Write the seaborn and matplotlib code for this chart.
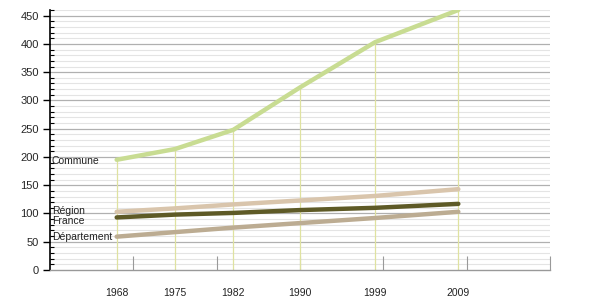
import matplotlib
matplotlib.use("Agg")
import matplotlib.pyplot as plt
import seaborn as sns
import pandas as pd
from matplotlib.ticker import MultipleLocator

years = [1968, 1975, 1982, 1990, 1999, 2009]
commune = [195, 214, 248, 323, 403, 460]
region = [103, 109, 116, 123, 131, 143]
france = [93, 98, 101, 106, 110, 117]
departement = [59, 67, 75, 83, 92, 103]

series_names = ["Commune", "Région", "France", "Département"]
series_values = [commune, region, france, departement]
colors = ["#c8dc92", "#d9c5ac", "#5e5a26", "#bcac92"]

rows = []
for name, vals in zip(series_names, series_values):
    for y, v in zip(years, vals):
        rows.append({"year": y, "value": v, "series": name})
df = pd.DataFrame(rows)

sns.set_theme(style="white")
plt.rcParams['font.family'] = ['Liberation Sans', 'DejaVu Sans']

fig = plt.figure(figsize=(6, 3), dpi=100)
ax = fig.add_axes([50/600, 30/300, 500/600, 260/300])

ax.set_xlim(1960, 2020)
ax.set_ylim(0, 460)

# grid
for v in range(10, 461, 10):
    if v % 50 == 0:
        ax.axhline(v, color="#b0b0b0", lw=0.9, zorder=0)
    else:
        ax.axhline(v, color="#e4e4e4", lw=0.8, zorder=0)

# vertical lines for data years
for y, v in zip(years, commune):
    ax.plot([y, y], [0, v], color="#dfe2a0", lw=0.9, zorder=1)

sns.lineplot(data=df, x="year", y="value", hue="series", hue_order=series_names,
             palette=colors, linewidth=3.2, legend=False, ax=ax, zorder=3)

# labels at left
label_y = {"Commune": 192, "Région": 105, "France": 87, "Département": 58}
for name in series_names:
    ax.text(1960.2, label_y[name], name, fontsize=7.5, color="#222222",
            va="center", ha="left", zorder=4)

# spines
for s in ["top", "right"]:
    ax.spines[s].set_visible(False)
ax.spines["left"].set_color("black")
ax.spines["left"].set_linewidth(1.2)
ax.spines["bottom"].set_color("#999999")
ax.spines["bottom"].set_linewidth(1.0)

ax.yaxis.set_major_locator(MultipleLocator(50))
ax.yaxis.set_minor_locator(MultipleLocator(10))
ax.tick_params(axis="y", which="major", direction="out", length=5, width=1,
               color="black", labelsize=8, pad=3, left=True)
ax.tick_params(axis="y", which="minor", direction="in", length=3, width=0.8,
               color="black", left=True)

# x ticks: decade marks (inward), labels at data years
ax.set_xticks(range(1970, 2021, 10))
ax.set_xticklabels([])
ax.tick_params(axis="x", which="major", direction="in", length=10, width=0.8,
               color="#999999", bottom=True)
for y in years:
    ax.text(y, -40, str(y), fontsize=7.5, ha="center", va="center", color="#222222")

ax.set_xlabel("")
ax.set_ylabel("")
ax.grid(False)

fig.savefig("out.png", dpi=100)
